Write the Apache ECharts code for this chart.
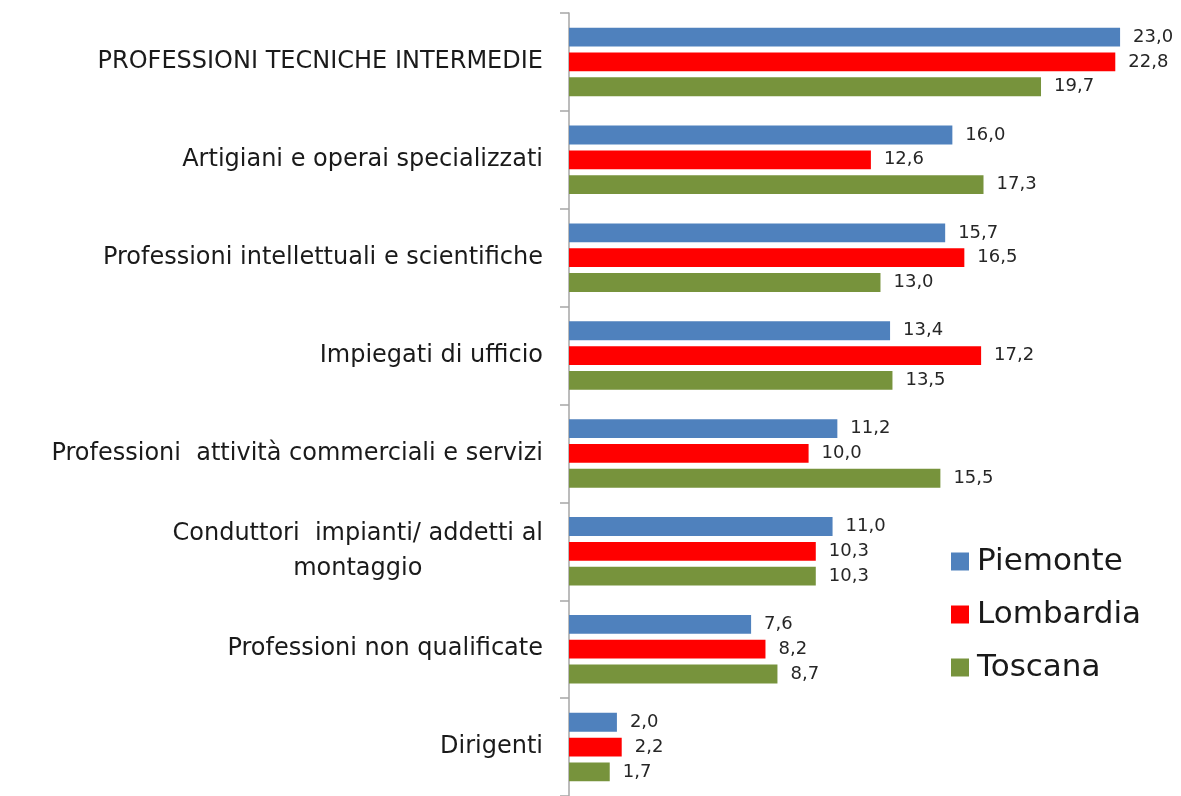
<!DOCTYPE html>
<html>
<head>
<meta charset="utf-8">
<script src="https://cdn.jsdelivr.net/npm/echarts@6/dist/echarts.min.js"></script>
<style>
  html, body { margin: 0; padding: 0; background: #fff; }
  #main { width: 1181px; height: 796px; }
</style>
</head>
<body>
<div id="main"></div>
<script>
  // categorie (dall'alto verso il basso)
  var categorie = [
    'PROFESSIONI TECNICHE INTERMEDIE',
    'Artigiani e operai specializzati',
    'Professioni intellettuali e scientifiche',
    'Impiegati di ufficio',
    'Professioni  attività commerciali e servizi',
    'Conduttori  impianti/ addetti al\nmontaggio',
    'Professioni non qualificate',
    'Dirigenti'
  ];
  var piemonte = [23.0, 16.0, 15.7, 13.4, 11.2, 11.0, 7.6, 2.0];
  var lombardia = [22.8, 12.6, 16.5, 17.2, 10.0, 10.3, 8.2, 2.2];
  var toscana = [19.7, 17.3, 13.0, 13.5, 15.5, 10.3, 8.7, 1.7];

  var font = 'DejaVu Sans';
  var sizeCat = 24;

  var myChart = echarts.init(document.getElementById('main'));

  function etichetta(p) {
    return p.value.toFixed(1).replace('.', ',');
  }

  function serie(nome, dati, colore) {
    return {
      name: nome,
      type: 'bar',
      data: dati,
      barGap: '32%',
      barCategoryGap: '30%',
      itemStyle: { color: colore },
      label: {
        show: true,
        position: 'right',
        distance: 13,
        formatter: etichetta,
        color: '#262626',
        fontFamily: font,
        fontSize: 18
      }
    };
  }

  // larghezza della riga piu' lunga, per centrare l'etichetta su due righe
  var ctx = document.createElement('canvas').getContext('2d');
  ctx.font = sizeCat + 'px "' + font + '"';

  var datiAsse = categorie.map(function (c) {
    if (c.indexOf('\n') >= 0) {
      var w = Math.max.apply(null, c.split('\n').map(function (r) { return ctx.measureText(r).width; }));
      return { value: c, textStyle: { align: 'center', padding: [4, w, 0, 0] } };
    }
    return c;
  });

  var option = {
    animation: false,
    textStyle: { fontFamily: font },
    grid: { left: 569, right: 13, top: 13, bottom: -5 },
    legend: {
      orient: 'vertical',
      left: 946,
      top: 541,
      itemWidth: 18,
      itemHeight: 18,
      itemGap: 22,
      icon: 'rect',
      textStyle: { fontSize: 31, color: '#1a1a1a', fontFamily: font, padding: [0, 0, 0, 3] },
      data: ['Piemonte', 'Lombardia', 'Toscana']
    },
    xAxis: {
      type: 'value',
      min: 0,
      max: 25,
      show: false
    },
    yAxis: {
      type: 'category',
      inverse: true,
      data: datiAsse,
      axisLine: { show: true, lineStyle: { color: '#a6a6a6', width: 1.5 } },
      axisTick: { show: true, length: 9, lineStyle: { color: '#a6a6a6', width: 1.5 } },
      axisLabel: {
        margin: 26,
        color: '#1a1a1a',
        fontFamily: font,
        fontSize: sizeCat,
        lineHeight: 35
      }
    },
    series: [
      serie('Piemonte', piemonte, '#4f81bd'),
      serie('Lombardia', lombardia, '#ff0000'),
      serie('Toscana', toscana, '#77933c')
    ]
  };

  myChart.setOption(option);
</script>
</body>
</html>
